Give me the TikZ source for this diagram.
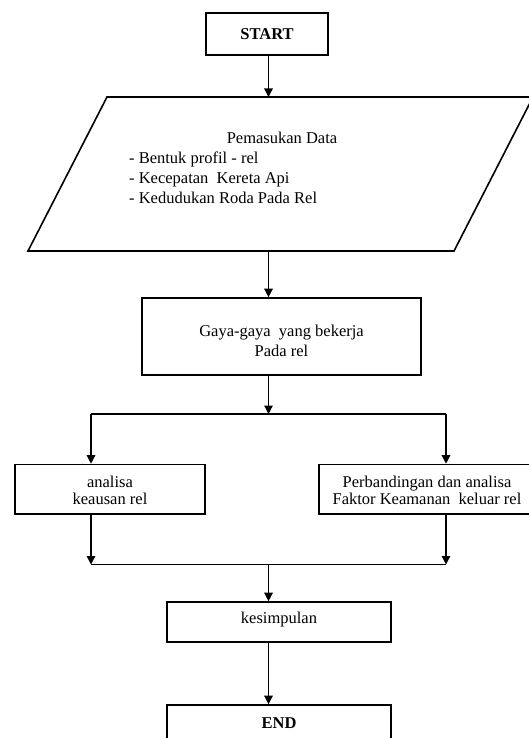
\documentclass[tikz,border=0pt]{standalone}
\usepackage{fontspec}
\setmainfont{Liberation Serif}
\usetikzlibrary{arrows.meta}
\begin{document}
\begin{tikzpicture}[x=1pt,y=-1pt,
  box/.style={draw, line width=1.6pt, inner sep=0pt, font=\fontsize{16.5}{20}\selectfont},
  txt/.style={inner sep=0pt, align=center, font=\fontsize{16.5}{20}\selectfont},
  arr/.style={line width=1.3pt, -{Triangle[length=8.5pt,width=8.5pt]}},
  ln/.style={line width=1.3pt}]
\useasboundingbox (0,0) rectangle (529,738);
\clip (0,0) rectangle (529,738);
% START
\node[box, minimum width=122pt, minimum height=41.5pt, font=\fontsize{16.5}{20}\selectfont\bfseries] (start) at (267,34) {START};
% parallelogram
\coordinate (ptl) at (107,97);
\coordinate (ptr) at (533,97);
\coordinate (pbr) at (454,251);
\coordinate (pbl) at (28,251);
\draw[line width=1.6pt] (ptl) -- (ptr) -- (pbr) -- (pbl) -- cycle;
\coordinate (ptop) at (268.5,97);
\coordinate (pbot) at (268.5,251);
\node[txt] (dtitle) at (282,138) {Pemasukan Data};
\node[txt, align=left, anchor=west] (dlist) at (129,178) {- Bentuk profil - rel\\- Kecepatan\ \ Kereta Api\\- Kedudukan Roda Pada Rel};
% Gaya
\node[box, minimum width=279pt, minimum height=77pt] (gaya) at (281.5,336.5) {};
\node[txt] (gayat) at (281.5,341) {Gaya-gaya\ \ yang bekerja\\Pada rel};
% analisa boxes
\node[box, minimum width=190pt, minimum height=49.5pt] (ana) at (110,489.25) {};
\node[txt, font=\fontsize{16.5}{17}\selectfont] (anat) at (110,490.5) {analisa\\keausan rel};
\node[box, minimum width=216pt, minimum height=49.5pt] (per) at (427,489.25) {};
\node[txt, font=\fontsize{16.5}{17}\selectfont] (pert) at (427,490.5) {Perbandingan dan analisa\\Faktor Keamanan\ \ keluar rel};
% kesimpulan and END
\node[box, minimum width=224pt, minimum height=40pt] (kes) at (279,622) {};
\node[txt] (kest) at (279,620) {kesimpulan};
\node[box, minimum width=224pt, minimum height=36pt, font=\fontsize{16.5}{20}\selectfont\bfseries] (end) at (279,723) {END};
% junctions
\coordinate (j1) at (268.5,414);
\coordinate (j1l) at (91,414);
\coordinate (j1r) at (446,414);
\coordinate (j2) at (268.5,564.5);
\coordinate (j2l) at (91,564.5);
\coordinate (j2r) at (446,564.5);
% connectors
\draw[arr] (ptop |- start.south) -- (ptop);
\draw[arr] (pbot) -- (pbot |- gaya.north);
\draw[arr] (j1 |- gaya.south) -- (j1);
\draw[ln] (j1l) -- (j1r);
\draw[arr] (j1l) -- (j1l |- ana.north);
\draw[arr] (j1r) -- (j1r |- per.north);
\draw[arr] (j2l |- ana.south) -- (j2l);
\draw[arr] (j2r |- per.south) -- (j2r);
\draw[ln] (j2l) -- (j2r);
\draw[arr] (j2) -- (j2 |- kes.north);
\draw[arr] (j2 |- kes.south) -- (j2 |- end.north);
\end{tikzpicture}
\end{document}
